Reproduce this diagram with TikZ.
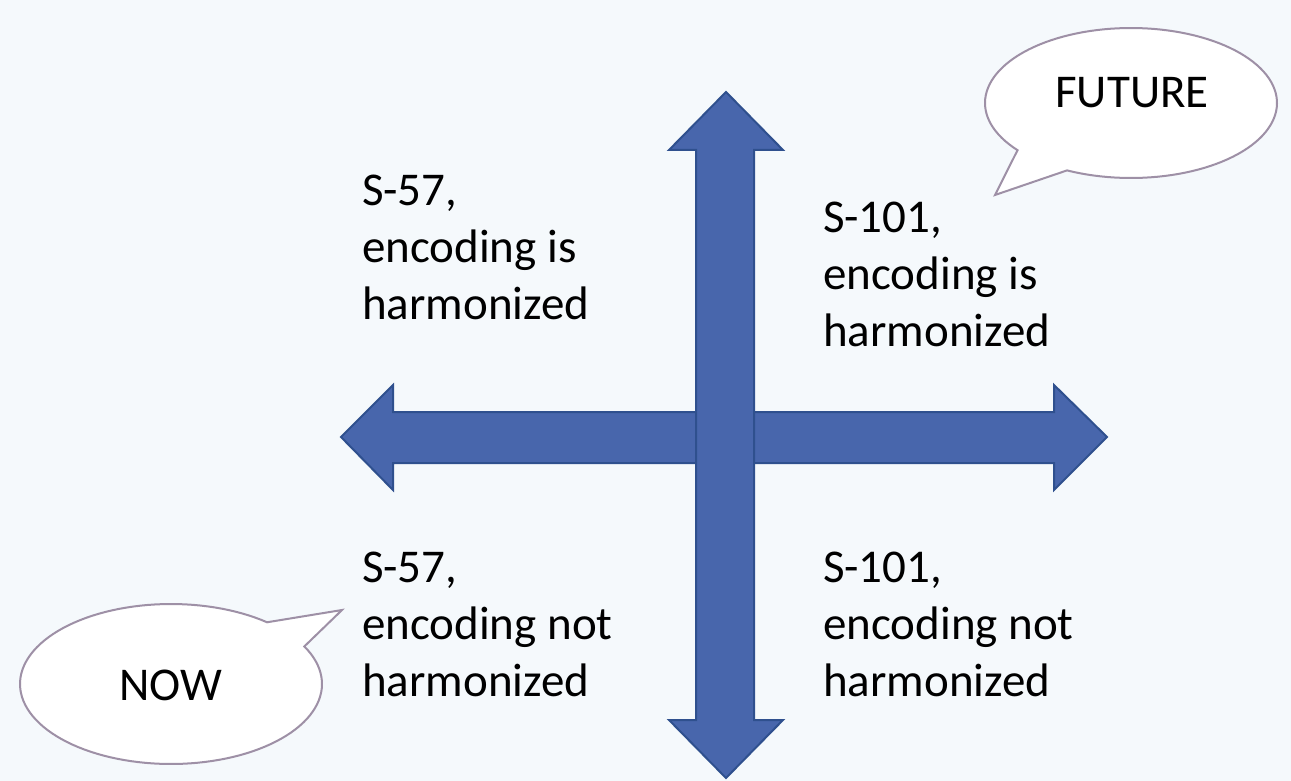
\documentclass[tikz,border=0pt]{standalone}
\usepackage{fontspec}
\setmainfont{Carlito}
\definecolor{bgc}{RGB}{245,249,252}
\definecolor{arrfill}{RGB}{72,102,172}
\definecolor{arrline}{RGB}{47,80,142}
\definecolor{callline}{RGB}{158,144,166}
\begin{document}
\begin{tikzpicture}[x=1pt,y=-1pt,
  bigarrow/.style={fill=arrfill,draw=arrline,line width=2pt,line join=miter},
  callout/.style={fill=white,draw=callline,line width=2pt,line join=miter},
  lbl/.style={anchor=base west,inner sep=0pt,font=\fontsize{47}{57}\selectfont},
  ctext/.style={anchor=base,inner sep=0pt,font=\fontsize{47}{57}\selectfont}]
\fill[bgc] (0,0) rectangle (1291,781);
\useasboundingbox (0,0) rectangle (1291,781);
% horizontal arrow
\draw[bigarrow] (341,437) -- (393,385) -- (393,412) -- (1054,412) -- (1054,385)
  -- (1107,437) -- (1054,490) -- (1054,463) -- (393,463) -- (393,490) -- cycle;
% vertical arrow
\draw[bigarrow] (726,92) -- (783,150) -- (754,150) -- (754,720) -- (783,720)
  -- (726,778) -- (669,720) -- (696,720) -- (696,150) -- (669,150) -- cycle;
% FUTURE callout
\draw[callout] plot[domain=141:476,samples=120,variable=\t]
  ({1131+146*cos(\t)},{103+75*sin(\t)}) -- (995,195) -- cycle;
% NOW callout
\draw[callout] plot[domain=-28:309.5,samples=120,variable=\t]
  ({171+151*cos(\t)},{684+80*sin(\t)}) -- (342,610) -- cycle;
\node[ctext] (future) at (1132,108) {FUTURE};
\node[ctext] (now) at (171,700) {NOW};
% quadrant labels
\node[lbl] (tla) at (362,205) {S-57,};
\node[lbl] (tlb) at (362,262) {encoding is};
\node[lbl] (tlc) at (362,319) {harmonized};
\node[lbl] (tra) at (823,232) {S-101,};
\node[lbl] (trb) at (823,289) {encoding is};
\node[lbl] (trc) at (823,346) {harmonized};
\node[lbl] (bla) at (362,582) {S-57,};
\node[lbl] (blb) at (362,639) {encoding not};
\node[lbl] (blc) at (362,696) {harmonized};
\node[lbl] (bra) at (823,582) {S-101,};
\node[lbl] (brb) at (823,639) {encoding not};
\node[lbl] (brc) at (823,696) {harmonized};
\end{tikzpicture}
\end{document}
